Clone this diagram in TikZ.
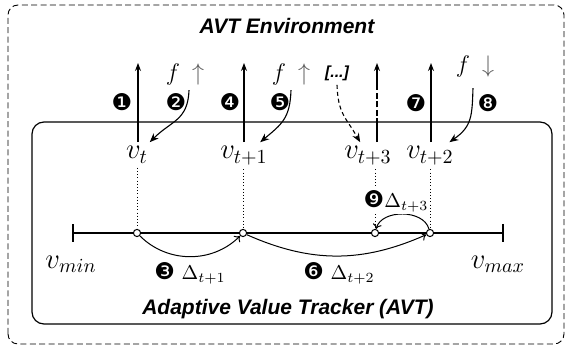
\documentclass[tikz,border=0pt]{standalone}
\usepackage{amsmath,amssymb}
\usepackage{fontspec}
\usepackage{xcolor}
\usepackage{tikz}
\usetikzlibrary{arrows.meta,positioning,calc}
\newfontfamily\headfont{Liberation Sans}
\newfontfamily\dingfont{DejaVu Sans}
\definecolor{fade}{HTML}{5C5C5C}
\newcommand{\ballnum}[1]{{\dingfont\fontsize{11.5}{12}\selectfont #1}}
\tikzset{
  envbox/.style={draw,line width=0.45pt,dash pattern=on 3pt off 1.7pt,rounded corners=5pt},
  avtbox/.style={draw,line width=0.6pt,rounded corners=6pt},
  head/.style={font=\headfont\bfseries\itshape\fontsize{10.5}{12}\selectfont},
  more/.style={font=\headfont\bfseries\itshape\fontsize{8}{9}\selectfont,inner sep=2pt},
  val/.style={font=\Large,inner sep=2pt,anchor=base},
  num/.style={font=\dingfont\fontsize{11.5}{12}\selectfont,inner sep=0pt},
  fch/.style={font=\large,inner sep=2pt},
  dlt/.style={fill=white,inner sep=1pt},
  pt/.style={circle,draw,fill=white,line width=0.5pt,inner sep=0pt,minimum size=3.6pt},
  up/.style={-{Stealth[length=4pt,width=3pt]},line width=0.55pt},
  feed/.style={-{Stealth[length=4.5pt,width=3.6pt]},line width=0.55pt},
  hop/.style={-{To[length=2.5pt,width=4.5pt]},line width=0.5pt},
  dots/.style={line width=0.5pt,dash pattern=on 0.5pt off 1.1pt},
}

\begin{document}
\begin{tikzpicture}[x=0.5pt,y=0.5pt]
\useasboundingbox (0,0) rectangle (567,347);
\draw[envbox] (8,3) rectangle (564,342);
\draw[avtbox] (32,23) rectangle (552,225);
\node[head] (env) at (287,321) {AVT Environment};
\node[head] (avt) at (288,38) {Adaptive Value Tracker (AVT)};
% tracked values
\node[val] (v0) at (137,188) {$v_t$};
\node[val] (v1) at (244,188) {$v_{t+1}$};
\node[val] (v3) at (368,188) {$v_{t+3}$};
\node[val] (v2) at (430,188) {$v_{t+2}$};
\coordinate (a0) at (138,284);
\coordinate (a1) at (244,284);
\coordinate (a3) at (377,284);
\coordinate (a2) at (431,284);
\draw[up] (v0.north -| a0) -- (a0);
\draw[up] (v1.north -| a1) -- (a1);
\draw[up,dash pattern=on 12pt off 1.2pt on 3pt off 1.2pt on 3pt off 1.2pt on 3pt off 1.5pt on 40pt] (v3.north -| a3) -- (a3);
\draw[up] (v2.north -| a2) -- (a2);
% feedback
\node[fch] (f0) at (185,272) {$f$\hspace{0.5em}{\color{fade}$\uparrow$}};
\node[fch] (f1) at (291,272) {$f$\hspace{0.5em}{\color{fade}$\uparrow$}};
\node[more] (etc) at (337,274) {[...]};
\node[fch] (f2) at (475,280) {$f$\hspace{0.5em}{\color{fade}$\downarrow$}};
\draw[feed] ([xshift=2pt]f0.south) to[out=-92,in=45,looseness=1.2] (v0);
\draw[feed] (f1.south) to[out=-92,in=40,looseness=1.2] (v1);
\draw[feed,dash pattern=on 2pt off 1.5pt] (etc.south) to[out=-88,in=120,looseness=1.2] (v3);
\draw[feed] ([xshift=-1pt,yshift=-3pt]f2.south) to[out=-92,in=35,looseness=1.2] (v2);
\node[num] (n1) at (122,245) {❶};
\node[num] (n2) at (176,245) {❷};
\node[num] (n4) at (230,245) {❹};
\node[num] (n5) at (280,245) {❺};
\node[num] (n7) at (416,244) {❼};
\node[num] (n8) at (488,244) {❽};
% value range
\coordinate (lo) at (72,114);
\coordinate (hi) at (504,114);
\draw[{Bar[width=9pt,line width=1pt]}-{Bar[width=9pt,line width=1pt]},line width=0.6pt] (lo) -- (hi);
\node[val,anchor=center] (vmin) at (71,83) {$v_{min}$};
\node[val,anchor=center] (vmax) at (498,83) {$v_{max}$};
\node[pt] (p0) at (137,114) {};
\node[pt] (p1) at (243,114) {};
\node[pt] (p3) at (375,114) {};
\node[pt] (p2) at (430,114) {};
\draw[dots] (v0.south -| p0) -- (p0.north);
\draw[dots] (v1.south -| p1) -- (p1.north);
\draw[dots] (v3.south -| p3) -- (p3.north);
\draw[dots] (v2.south -| p2) -- (p2.north);
\draw[hop] (p0) to[bend right=45] (p1);
\draw[hop] (p1) to[bend right=24] (p2);
\draw[hop] (p2) to[bend right=75] (p3);
\node (d1) at (190,74) {\ballnum{❸}~$\Delta_{t+1}$};
\node (d2) at (339,74) {\ballnum{❻}~$\Delta_{t+2}$};
\node[dlt] (d3) at (396,146) {\ballnum{❾}$\Delta_{t+3}$};
\end{tikzpicture}
\end{document}
